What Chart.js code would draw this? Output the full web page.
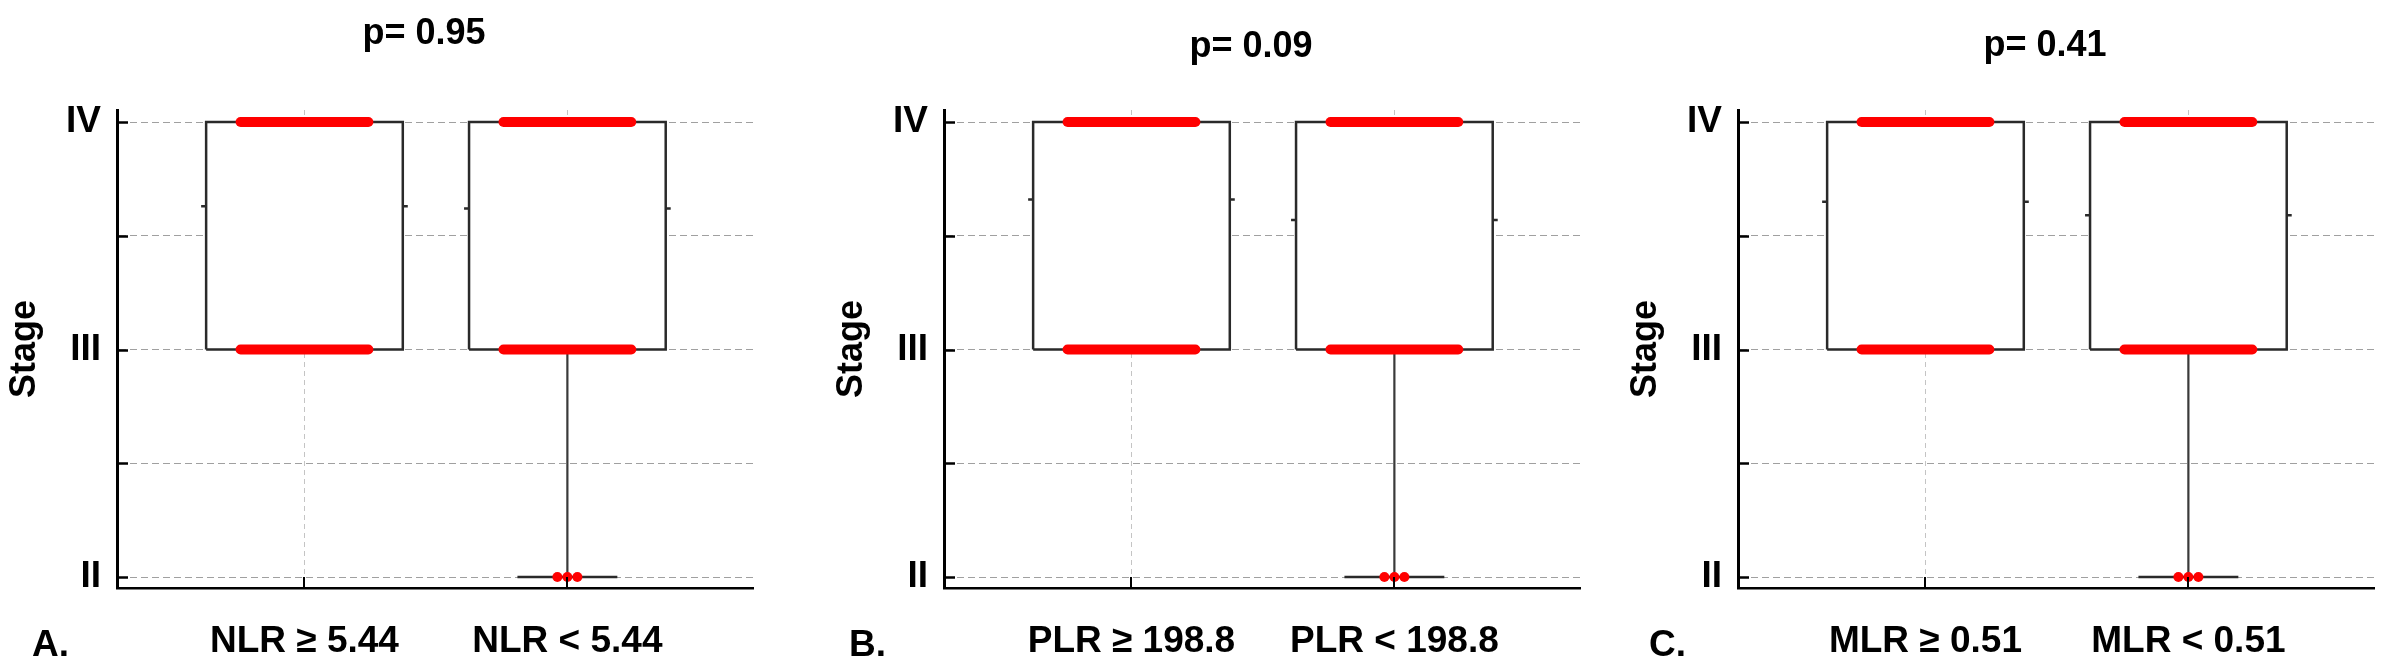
<!DOCTYPE html>
<html>
<head>
<meta charset="utf-8">
<script src="https://cdn.jsdelivr.net/npm/chart.js@4.4.1/dist/chart.umd.min.js"></script>
<style>
  body { margin: 0; background: #fff; width: 2395px; height: 672px; position: relative; overflow: hidden; }
  canvas { position: absolute; top: 0; }
</style>
</head>
<body>
<canvas id="chartA" width="758" height="672" style="left:0px"></canvas>
<canvas id="chartB" width="758" height="672" style="left:827px"></canvas>
<canvas id="chartC" width="758" height="672" style="left:1621px"></canvas>
<script>
// y axis: tumour stage
const stageValues = [2, 3, 4];
const stageNames = ['II', 'III', 'IV'];
const gridValues = [2, 2.5, 3, 3.5, 4];

// groups per panel
const groupsA = ['NLR ≥ 5.44', 'NLR < 5.44'];
const groupsB = ['PLR ≥ 198.8', 'PLR < 198.8'];
const groupsC = ['MLR ≥ 0.51', 'MLR < 0.51'];

const pTexts = ['p= 0.95', 'p= 0.09', 'p= 0.41'];
const panelLetters = ['A.', 'B.', 'C.'];

// box plot values (box = q1..q3, whisker down to low, small marks = mean)
const q1A = [3, 3], q3A = [4, 4], lowA = [3, 2], meanA = [3.63, 3.62];
const q1B = [3, 3], q3B = [4, 4], lowB = [3, 2], meanB = [3.66, 3.57];
const q1C = [3, 3], q3C = [4, 4], lowC = [3, 2], meanC = [3.65, 3.59];

// stages with many observations (drawn as dense red rows)
const denseStagesA = [[3, 4], [3, 4]];
const denseStagesB = [[3, 4], [3, 4]];
const denseStagesC = [[3, 4], [3, 4]];

// number of single observations at stage II
const stageIICountA = [0, 3];
const stageIICountB = [0, 3];
const stageIICountC = [0, 3];

// sizes in x units (1 unit = distance between the two groups)
const BOX_HALF = 0.374;
const CAP_HALF = 0.19;
const MEAN_TICK = 0.019;
const ROW_HALF = 0.243;
const DOT_GAP = 0.038;

const FONT = "'Liberation Sans', Arial, sans-serif";
Chart.defaults.font.family = FONT;
Chart.defaults.color = '#000';

function seg(points, color, width, order) {
  return { data: points, borderColor: color, borderWidth: width, pointRadius: 0,
           fill: false, spanGaps: false, order: order };
}

function buildDatasets(q1, q3, low, mean, dense, stageIICount) {
  const ds = [];
  for (let i = 0; i < q1.length; i++) {
    const c = i + 1;
    const x0 = c - BOX_HALF, x1 = c + BOX_HALF;
    if (low[i] < q1[i]) {
      ds.push(seg([{x: c, y: q1[i]}, {x: c, y: low[i]}], '#3a3a3a', 2.2, 6));
      ds.push(seg([{x: c - CAP_HALF, y: low[i]}, {x: c + CAP_HALF, y: low[i]}], '#2a2a2a', 2.5, 6));
    }
    // white fill of the box, covers grid lines
    ds.push({ data: [{x: x0, y: q3[i]}, {x: x1, y: q3[i]}], borderWidth: 0, pointRadius: 0,
              fill: {value: q1[i]}, backgroundColor: '#ffffff', order: 8 });
    ds.push(seg([{x: x0, y: q1[i]}, {x: x0, y: q3[i]}, {x: x1, y: q3[i]}, {x: x1, y: q1[i]}, {x: x0, y: q1[i]}],
                '#2a2a2a', 2.5, 7));
    ds.push(seg([{x: x0 - MEAN_TICK, y: mean[i]}, {x: x0, y: mean[i]}, {x: c, y: null},
                 {x: x1, y: mean[i]}, {x: x1 + MEAN_TICK, y: mean[i]}], '#2a2a2a', 2.5, 7));
    dense[i].forEach(v => {
      const d = seg([{x: c - ROW_HALF, y: v}, {x: c + ROW_HALF, y: v}], '#ff0000', 10, 2);
      d.borderCapStyle = 'round';
      ds.push(d);
    });
    if (stageIICount[i] > 0) {
      const pts = [];
      for (let k = 0; k < stageIICount[i]; k++) {
        pts.push({x: c + (k - (stageIICount[i] - 1) / 2) * DOT_GAP, y: stageValues[0]});
      }
      ds.push({ data: pts, showLine: false, pointRadius: 5, pointBackgroundColor: '#ff0000',
                pointBorderWidth: 0, order: 1 });
    }
  }
  return ds;
}

const decor = {
  id: 'decor',
  afterDraw(chart, args, opts) {
    const {ctx, chartArea, scales} = chart;
    ctx.save();
    // inward tick marks
    ctx.strokeStyle = '#000';
    ctx.lineWidth = 2.5;
    scales.y.ticks.forEach(t => {
      const py = Math.round(scales.y.getPixelForValue(t.value)) + 0.5;
      ctx.beginPath(); ctx.moveTo(chartArea.left, py); ctx.lineTo(chartArea.left + 11, py); ctx.stroke();
    });
    ctx.lineWidth = 2;
    scales.x.ticks.forEach(t => {
      const px = Math.round(scales.x.getPixelForValue(t.value));
      ctx.beginPath(); ctx.moveTo(px, chartArea.bottom); ctx.lineTo(px, chartArea.bottom - 11); ctx.stroke();
    });
    // p value and panel letter
    ctx.fillStyle = '#000';
    ctx.font = 'bold 36px ' + FONT;
    ctx.textAlign = 'center';
    ctx.textBaseline = 'alphabetic';
    ctx.fillText(opts.title, chartArea.left + 307, opts.titleY);
    ctx.font = 'bold 37px ' + FONT;
    ctx.textAlign = 'left';
    ctx.fillText(opts.letter, chartArea.left + opts.letterX, 656);
    ctx.restore();
  }
};

function makePanel(id, groups, datasets, title, titleY, letter, letterX) {
  new Chart(document.getElementById(id), {
    type: 'line',
    data: { datasets: datasets },
    plugins: [decor],
    options: {
      responsive: false,
      animation: false,
      events: [],
      devicePixelRatio: 1,
      layout: { padding: { top: 110, left: 0, right: 0, bottom: 0 } },
      plugins: {
        legend: { display: false },
        tooltip: { enabled: false },
        decor: { title: title, titleY: titleY, letter: letter, letterX: letterX }
      },
      scales: {
        x: {
          type: 'linear',
          min: 0.287,
          max: 2.706,
          afterBuildTicks: s => { s.ticks = groups.map((g, i) => ({value: i + 1})); },
          afterFit: s => { s.height = 84; },
          ticks: {
            callback: v => groups[v - 1] || '',
            font: { size: 37, weight: 'bold' },
            color: '#000',
            padding: 32,
            maxRotation: 0,
            autoSkip: false
          },
          grid: { drawTicks: false, color: '#c4c4c4', lineWidth: 1 },
          border: { display: true, color: '#000', width: 2.5, dash: [5, 4] }
        },
        y: {
          type: 'linear',
          min: 1.952,
          max: 4.053,
          afterBuildTicks: s => { s.ticks = gridValues.map(v => ({value: v})); },
          afterFit: s => { s.width = 117; },
          title: {
            display: true,
            text: 'Stage',
            font: { size: 36, weight: 'bold' },
            color: '#000',
            padding: { top: 3, bottom: 0 }
          },
          ticks: {
            callback: v => { const i = stageValues.indexOf(v); return i >= 0 ? stageNames[i] : ''; },
            font: { size: 37, weight: 'bold' },
            color: '#000',
            padding: 16,
            autoSkip: false
          },
          grid: { drawTicks: false, color: '#a0a0a0', lineWidth: 1 },
          border: { display: true, color: '#000', width: 3, dash: [7, 4] }
        }
      }
    }
  });
}

makePanel('chartA', groupsA, buildDatasets(q1A, q3A, lowA, meanA, denseStagesA, stageIICountA),
          pTexts[0], 44, panelLetters[0], -85);
makePanel('chartB', groupsB, buildDatasets(q1B, q3B, lowB, meanB, denseStagesB, stageIICountB),
          pTexts[1], 57, panelLetters[1], -95);
makePanel('chartC', groupsC, buildDatasets(q1C, q3C, lowC, meanC, denseStagesC, stageIICountC),
          pTexts[2], 56, panelLetters[2], -89);
</script>
</body>
</html>
